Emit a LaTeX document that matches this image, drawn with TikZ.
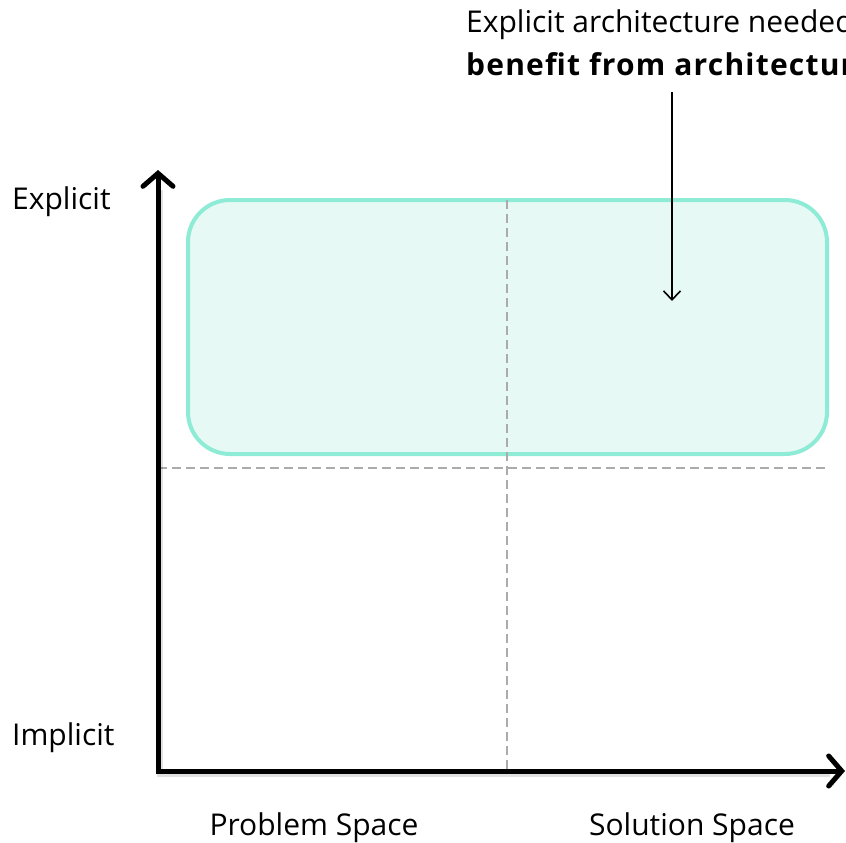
\documentclass[tikz,border=0pt]{standalone}
\usepackage{fontspec}
\setmainfont{Open Sans}
\usetikzlibrary{arrows.meta}
\begin{document}
\begin{tikzpicture}[x=1pt,y=-1pt,
  axis/.style={line width=5pt, line join=miter, -{Straight Barb[length=13pt,width=30pt,line cap=round]}},
  axisshadow/.style={line width=6pt, black, opacity=0.12},
  guide/.style={draw=black!33, line width=1.2pt, dash pattern=on 9pt off 5pt},
  region/.style={draw={rgb,255:red,142;green,235;blue,214}, fill={rgb,255:red,230;green,249;blue,244}, line width=4pt, rounded corners=42pt},
  label/.style={font=\fontsize{30}{36}\selectfont, inner sep=0pt},
  pointer/.style={line width=1.6pt, -{Straight Barb[length=9pt,width=17pt]}}
]
\useasboundingbox (0,0) rectangle (846,843);
\clip (0,0) rectangle (846,843);

% highlighted region of the quadrant chart
\path[region] (188,200) rectangle (827,454);

% quadrant guides
\coordinate (vtop) at (507,200);
\coordinate (vbot) at (507,771);
\coordinate (hleft) at (158,468);
\coordinate (hright) at (827,468);
\draw[guide] (vtop) -- (vbot);
\draw[guide] (hleft) -- (hright);

% axes with a faint drop shadow
\coordinate (ytip) at (158,170);
\coordinate (origin) at (158,771);
\coordinate (xtip) at (845,771);
\draw[axisshadow] (160,190) -- (160,774) -- (830,774);
\draw[axis] (ytip |- 0,750) -- (origin) -- (xtip);
\draw[axis] (origin) -- (ytip);

% axis labels
\node[label, anchor=base west] (explicit) at (12,209) {Explicit};
\node[label, anchor=base west] (implicit) at (12,745) {Implicit};
\node[label, anchor=base] (problem) at (314,835) {Problem Space};
\node[label, anchor=base] (solution) at (692,835) {Solution Space};

% annotation with pointer
\node[label, anchor=base west] (note) at (466,33) {Explicit architecture needed};
\node[label, anchor=base west, font=\fontsize{30}{36}\selectfont\bfseries\addfontfeature{LetterSpace=4}] (notebold) at (466,75) {benefit from architecture};
\coordinate (pstart) at (672,92);
\coordinate (pend) at (672,301);
\draw[pointer] (pstart) -- (pend);
\end{tikzpicture}
\end{document}
